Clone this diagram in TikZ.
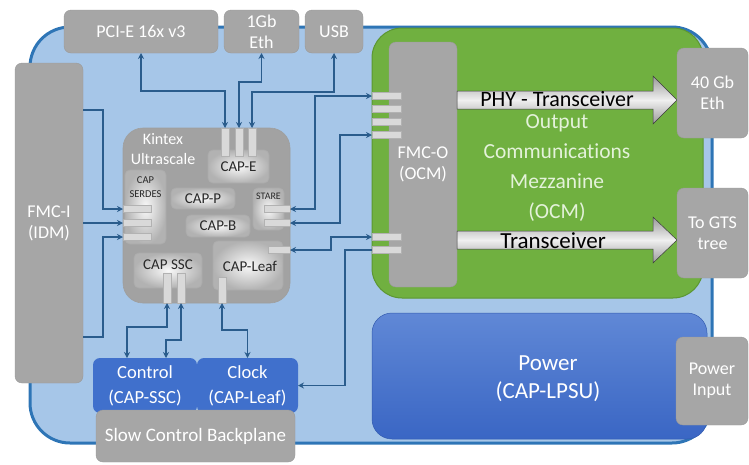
\documentclass[tikz,border=0pt]{standalone}
\usepackage{fontspec}
\setmainfont{Carlito}[Ligatures=NoCommon]
\usetikzlibrary{arrows.meta,calc}
\definecolor{boardfill}{RGB}{166,198,232}
\definecolor{boardline}{RGB}{46,117,182}
\definecolor{arrowblue}{RGB}{42,92,140}
\definecolor{boxgray}{RGB}{166,166,166}
\definecolor{chipgray}{RGB}{162,162,162}
\definecolor{ocmgreen}{RGB}{112,176,64}
\definecolor{ocmline}{RGB}{92,150,50}
\definecolor{ocmtext}{RGB}{228,242,218}
\definecolor{pwrtop}{RGB}{96,136,214}
\definecolor{pwrbot}{RGB}{58,102,196}
\definecolor{ctrlblue}{RGB}{64,112,204}
\definecolor{darktext}{RGB}{40,40,40}
\begin{document}
\begin{tikzpicture}[x=1pt,y=-1pt,
  every node/.style={inner sep=0pt,outer sep=0pt,align=center},
  grid/.style={anchor=north west,rectangle},
  graybox/.style={grid,fill=boxgray,draw=gray!80,line width=0.4pt,rounded corners=7pt,text=white,font=\fontsize{18}{21}\selectfont},
  innerbox/.style={grid,rounded corners=5pt,draw=gray!65,line width=0.8pt,shading=radial,inner color=gray!5,outer color=gray!60,text=darktext},
  pinh/.style={rectangle,fill=gray!30,draw=gray!60,line width=0.4pt,minimum height=7pt},
  pinv/.style={rectangle,fill=gray!30,draw=gray!60,line width=0.4pt,minimum width=8pt},
  bluebox/.style={grid,fill=ctrlblue,rounded corners=7pt,text=white,font=\fontsize{18.5}{25}\selectfont},
  arr/.style={draw=arrowblue,line width=1.4pt,-{Stealth[length=6pt,width=6pt]}},
  darr/.style={draw=arrowblue,line width=1.4pt,{Stealth[length=6pt,width=6pt]}-{Stealth[length=6pt,width=6pt]}},
  blockarrow/.style={top color=gray!80,bottom color=gray!80,middle color=gray!12,draw=gray!45!black,line width=0.5pt}
]
\useasboundingbox (0,0) rectangle (749,464);

% board
\node[grid,minimum width=682pt,minimum height=416pt,fill=boardfill,draw=boardline,line width=3pt,rounded corners=40pt] (board) at (30,27) {};

% top gray boxes
\node[graybox,minimum width=154pt,minimum height=43pt] (pcie) at (64,10) {PCI-E 16x v3};
\node[graybox,minimum width=75pt,minimum height=43pt] (eth1) at (224,10) {1Gb\\Eth};
\node[graybox,minimum width=58pt,minimum height=43pt] (usb) at (305,10) {USB};

% FMC-I
\node[graybox,minimum width=68pt,minimum height=320pt] (fmci) at (15,63) {FMC-I\\(IDM)};

% OCM
\node[grid,minimum width=331pt,minimum height=270pt,fill=ocmgreen,draw=ocmline,line width=1pt,rounded corners=30pt] (ocm) at (372,28) {};
\node[text=ocmtext,font=\fontsize{21.5}{30}\selectfont] (ocmlbl) at (557,168) {Output\\Communications\\Mezzanine\\(OCM)};
\node[graybox,minimum width=68pt,minimum height=245pt] (fmco) at (389,42) {FMC-O\\(OCM)};

% block arrows
\shade[blockarrow] (fmco.east |- 0,91) -- (653,91) -- (653,76) -- (677,100) -- (653,124) -- (653,109) -- (fmco.east |- 0,109) -- cycle;
\node[font=\fontsize{22}{24}\selectfont,text=black] (phy) at (557,99) {PHY - Transceiver};
\shade[blockarrow] (fmco.east |- 0,231) -- (653,231) -- (653,217) -- (677,240) -- (653,263) -- (653,249) -- (fmco.east |- 0,249) -- cycle;
\node[font=\fontsize{23}{25}\selectfont,text=black] (trans) at (553,241) {Transceiver};

% right boxes
\node[graybox,minimum width=71pt,minimum height=90pt] (eth40) at (677,48) {40 Gb\\Eth};
\node[graybox,minimum width=71pt,minimum height=90pt] (gts) at (677,188) {To GTS\\tree};

% power
\node[grid,minimum width=335pt,minimum height=126pt,rounded corners=20pt,top color=pwrtop,bottom color=pwrbot,draw=pwrbot!90!black,line width=0.5pt] (power) at (372,313) {};
\node[text=white,font=\fontsize{23}{28}\selectfont] (powerlbl) at (548,379) {Power\\(CAP-LPSU)};
\node[graybox,minimum width=72pt,minimum height=88pt] (pwrin) at (676,337) {Power\\Input};

% control / clock / backplane
\node[bluebox,minimum width=104pt,minimum height=55pt] (control) at (93,358) {Control\\(CAP-SSC)};
\node[bluebox,minimum width=101pt,minimum height=55pt] (clock) at (197,358) {Clock\\(CAP-Leaf)};
\node[graybox,minimum width=199pt,minimum height=52pt,font=\fontsize{19}{21}\selectfont] (backplane) at (96,410) {Slow Control Backplane};

% chip
\node[grid,minimum width=167pt,minimum height=175pt,fill=chipgray,draw=gray!75,line width=0.6pt,rounded corners=20pt] (chip) at (123,128) {};
\node[text=white,font=\fontsize{16}{20}\selectfont] (chiplbl) at (163,149) {Kintex\\Ultrascale};
\node[innerbox,minimum width=61pt,minimum height=33pt,font=\fontsize{15}{17}\selectfont] (cape) at (208,150) {\raisebox{-6pt}{CAP-E}};
\node[innerbox,minimum width=41pt,minimum height=74pt] (serdes) at (125,170) {};
\node[text=darktext,font=\fontsize{10.5}{14}\selectfont] (serdeslbl) at (145.5,187) {CAP\\SERDES};
\node[innerbox,minimum width=64pt,minimum height=21pt,font=\fontsize{15}{17}\selectfont] (capp) at (171,188) {CAP-P};
\node[innerbox,minimum width=64pt,minimum height=22pt,font=\fontsize{15}{17}\selectfont] (capb) at (186,215) {CAP-B};
\node[innerbox,minimum width=31pt,minimum height=42pt] (stare) at (253,188) {};
\node[text=darktext,font=\fontsize{10}{12}\selectfont] (starelbl) at (268.5,196) {STARE};
\node[innerbox,minimum width=70pt,minimum height=49pt] (capleaf) at (213,241) {};
\node[text=darktext,font=\fontsize{15}{17}\selectfont] (capleaflbl) at (250,266) {CAP-Leaf};
\node[innerbox,minimum width=68pt,minimum height=35pt] (capssc) at (134,253) {};
\node[text=darktext,font=\fontsize{15}{17}\selectfont] (capssclbl) at (168,265) {CAP SSC};

% pins
\node[pinv,minimum height=28pt] (pe1) at (225,142) {};
\node[pinv,minimum height=28pt] (pe2) at (239,142) {};
\node[pinv,minimum height=28pt] (pe3) at (252,142) {};
\node[pinh,minimum width=28pt] (ps1) at (137,209) {};
\node[pinh,minimum width=28pt] (ps2) at (137,223) {};
\node[pinh,minimum width=28pt] (ps3) at (137,237) {};
\node[pinh,minimum width=26pt] (pst1) at (277,209) {};
\node[pinh,minimum width=26pt] (pst2) at (277,223) {};
\node[pinh,minimum width=22pt] (plf) at (279,250) {};
\node[pinv,minimum height=26pt] (plb) at (222,290) {};
\node[pinv,minimum height=30pt] (pss1) at (167,288) {};
\node[pinv,minimum height=30pt] (pss2) at (181,288) {};
\node[pinh,minimum width=29pt] (po1) at (386.5,96) {};
\node[pinh,minimum width=29pt] (po2) at (386.5,109) {};
\node[pinh,minimum width=29pt] (po3) at (386.5,122) {};
\node[pinh,minimum width=29pt] (po4) at (386.5,135) {};
\node[pinh,minimum width=29pt] (po5) at (386.5,237) {};
\node[pinh,minimum width=29pt] (po6) at (386.5,250) {};

% connectors
\draw[darr] (pcie.south) -- ++(0,38) -| (pe1.north);
\draw[darr] (eth1.south) -- ++(0,29) -| (pe2.north);
\draw[darr] (usb.south) -- ++(0,39) -| (pe3.north);
\draw[arr] ([yshift=113pt]fmci.east) -- ++(20,0) |- (ps1.west);
\draw[arr] (fmci.east) -- (ps2.west);
\draw[arr] ([yshift=-114pt]fmci.east) -- ++(20,0) |- (ps3.west);
\draw[darr] (pst1.east) -- ++(25,0) |- (po1.west);
\draw[darr] (pst2.east) -- ++(50,0) |- (po4.west);
\draw[darr] (plf.east) -- ++(41,0) |- (po5.west);
\draw[arr] (po6.west) -- ++(-27,0) |- (clock.east);
\draw[darr] (pss1.south) -- ++(0,24) -| ([xshift=-18pt]control.north);
\draw[darr] (pss2.south) -- ++(0,37) -| ([xshift=21pt]control.north);
\draw[darr] (plb.south) -- ++(0,27) -| (clock.north);
\end{tikzpicture}
\end{document}
